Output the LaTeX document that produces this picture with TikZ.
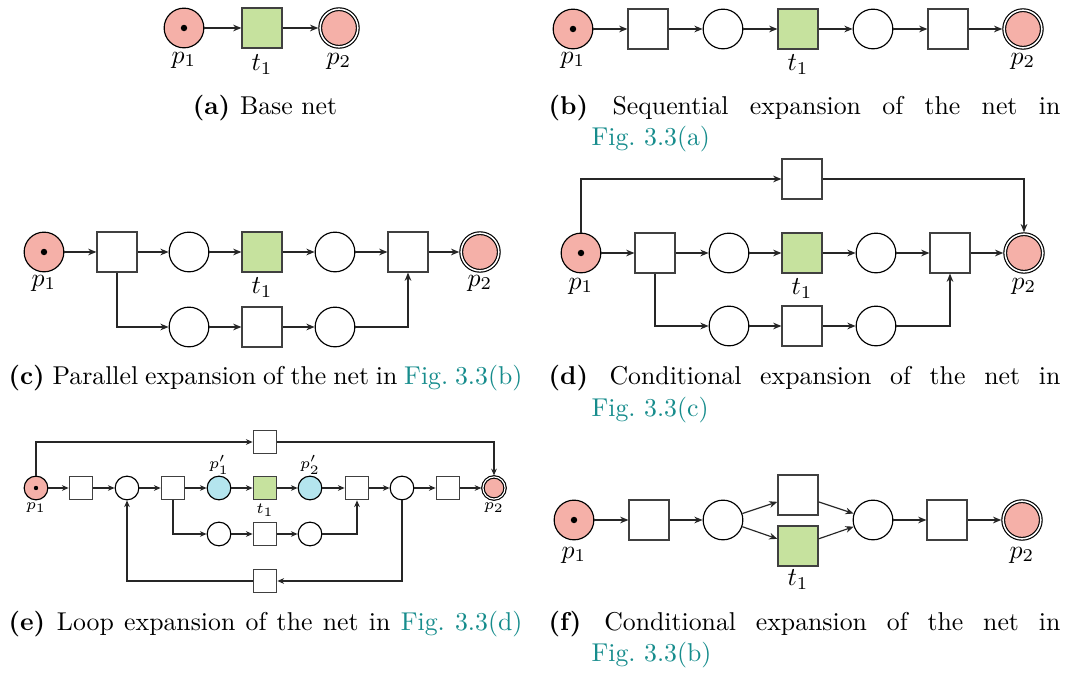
\documentclass[tikz,border=0pt]{standalone}
\usetikzlibrary{arrows.meta}
\definecolor{tokred}{RGB}{245,176,168}
\definecolor{trgreen}{RGB}{198,226,158}
\definecolor{plblue}{RGB}{180,229,238}
\definecolor{reflink}{RGB}{22,140,140}
\tikzset{
  pl/.style={circle, draw=black, line width=0.45pt, minimum size=15.4pt, inner sep=0pt, fill=white},
  tr/.style={rectangle, draw=black!75, line width=0.8pt, minimum size=15.2pt, inner sep=0pt, fill=white},
  spl/.style={pl, minimum size=9.2pt},
  str/.style={tr, minimum size=9.0pt, line width=0.6pt},
  initpl/.style={fill=tokred},
  finalpl/.style={fill=tokred, double, double distance=0.6pt, outer sep=0.75pt, minimum size=14.6pt},
  sfinalpl/.style={fill=tokred, double, double distance=0.45pt, outer sep=0.6pt, minimum size=8.6pt},
  keytr/.style={fill=trgreen},
  keypl/.style={fill=plblue},
  tok/.style={circle, fill=black, inner sep=0pt, minimum size=2.5pt},
  stok/.style={circle, fill=black, inner sep=0pt, minimum size=1.7pt},
  arr/.style={-{Stealth[length=3.2pt,width=2.6pt]}, line width=0.45pt, draw=black!85},
  sarr/.style={-{Stealth[length=2.6pt,width=2.2pt]}, line width=0.4pt, draw=black!85},
  lbl/.style={inner sep=0pt},
  slbl/.style={inner sep=0pt, font=\fontsize{6.3}{7.5}\selectfont},
  captext/.style={inner sep=0pt, anchor=base west},
  captextc/.style={inner sep=0pt, anchor=base},
}
\newcommand{\figlink}[1]{\textcolor{reflink}{#1}}
\newcommand{\sublabel}[1]{{\bfseries (#1)\ }}
\begin{document}
\begin{tikzpicture}[x=0.388pt, y=-0.388pt]
\useasboundingbox (0,0) rectangle (1065,675);

% ---------- (a) base net ----------
\node[pl,initpl] (a1) at (184,28) {};
\node[tok] (a1t) at (a1) {};
\node[tr,keytr] (a2) at (262,28) {};
\node[pl,finalpl] (a3) at (339,28) {};
\node[lbl] (a1l) at (184,60) {$p_1$};
\node[lbl] (a2l) at (262,65) {$t_1$};
\node[lbl] (a3l) at (339,61) {$p_2$};
\draw[arr] (a1) -- (a2);
\draw[arr] (a2) -- (a3);
\node[captextc] (capa) at (265,115) {\sublabel{a}Base net};

% ---------- (b) sequential expansion ----------
\node[pl,initpl] (b1) at (573,29) {};
\node[tok] (b1t) at (b1) {};
\node[tr] (b2) at (648,29) {};
\node[pl] (b3) at (723,29) {};
\node[tr,keytr] (b4) at (798,29) {};
\node[pl] (b5) at (873,29) {};
\node[tr] (b6) at (948,29) {};
\node[pl,finalpl] (b7) at (1023,29) {};
\node[lbl] (b1l) at (573,60) {$p_1$};
\node[lbl] (b4l) at (798,65) {$t_1$};
\node[lbl] (b7l) at (1023,61) {$p_2$};
\foreach \s/\t in {b1/b2,b2/b3,b3/b4,b4/b5,b5/b6,b6/b7}
  \draw[arr] (\s) -- (\t);
\node[captext] (capb1) at (548,115) {\makebox[198.6pt][s]{\sublabel{b}Sequential expansion of the net in}};
\node[captext] (capb2) at (591,146) {\figlink{Fig.~3.3(a)}};

% ---------- (c) parallel expansion ----------
\node[pl,initpl] (c1) at (44,252) {};
\node[tok] (c1t) at (c1) {};
\node[tr] (c2) at (117,252) {};
\node[pl] (c3) at (189,252) {};
\node[tr,keytr] (c4) at (262,252) {};
\node[pl] (c5) at (335,252) {};
\node[tr] (c6) at (408,252) {};
\node[pl,finalpl] (c7) at (480,252) {};
\node[pl] (c8) at (189,327) {};
\node[tr] (c9) at (262,327) {};
\node[pl] (c10) at (335,327) {};
\node[lbl] (c1l) at (44,283) {$p_1$};
\node[lbl] (c4l) at (262,288) {$t_1$};
\node[lbl] (c7l) at (480,283) {$p_2$};
\foreach \s/\t in {c1/c2,c2/c3,c3/c4,c4/c5,c5/c6,c6/c7,c8/c9,c9/c10}
  \draw[arr] (\s) -- (\t);
\draw[arr] (c2.south) |- (c8);
\draw[arr] (c10) -| (c6.south);
\node[captext] (capc) at (8,385) {\makebox[199.4pt][s]{\sublabel{c}Parallel expansion of the net in \figlink{Fig.~3.3(b)}}};

% ---------- (d) conditional expansion ----------
\node[pl,initpl] (d1) at (581,253) {};
\node[tok] (d1t) at (d1) {};
\node[tr] (d2) at (655,253) {};
\node[pl] (d3) at (729,253) {};
\node[tr,keytr] (d4) at (802,253) {};
\node[pl] (d5) at (876,253) {};
\node[tr] (d6) at (950,253) {};
\node[pl,finalpl] (d7) at (1024,253) {};
\node[pl] (d8) at (729,326) {};
\node[tr] (d9) at (802,326) {};
\node[pl] (d10) at (876,326) {};
\node[tr] (d11) at (802,179) {};
\node[lbl] (d1l) at (581,286) {$p_1$};
\node[lbl] (d4l) at (802,289) {$t_1$};
\node[lbl] (d7l) at (1024,286) {$p_2$};
\foreach \s/\t in {d1/d2,d2/d3,d3/d4,d4/d5,d5/d6,d6/d7,d8/d9,d9/d10}
  \draw[arr] (\s) -- (\t);
\draw[arr] (d2.south) |- (d8);
\draw[arr] (d10) -| (d6.south);
\draw[arr] (d1.north) |- (d11);
\draw[arr] (d11) -| (d7.north);
\node[captext] (capd1) at (548,385) {\makebox[198.6pt][s]{\sublabel{d}Conditional expansion of the net in}};
\node[captext] (capd2) at (591,417) {\figlink{Fig.~3.3(c)}};

% ---------- (e) loop expansion ----------
\node[spl,initpl] (e1) at (36,488) {};
\node[stok] (e1t) at (e1) {};
\node[str] (e2) at (81,488) {};
\node[spl] (e3) at (127,488) {};
\node[str] (e4) at (173,488) {};
\node[spl,keypl] (e5) at (219,488) {};
\node[str,keytr] (e6) at (265,488) {};
\node[spl,keypl] (e7) at (310,488) {};
\node[str] (e8) at (357,488) {};
\node[spl] (e9) at (402,488) {};
\node[str] (e10) at (448,488) {};
\node[spl,sfinalpl] (e11) at (494,488) {};
\node[str] (e12) at (265,442) {};
\node[spl] (e13) at (219,534) {};
\node[str] (e14) at (265,534) {};
\node[spl] (e15) at (310,534) {};
\node[str] (e16) at (265,581) {};
\node[slbl] (e1l) at (36,508) {$p_1$};
\node[slbl] (e6l) at (265,510) {$t_1$};
\node[slbl] (e11l) at (494,508) {$p_2$};
\node[slbl] (e5l) at (219,465) {$p_1'$};
\node[slbl] (e7l) at (310,465) {$p_2'$};
\foreach \s/\t in {e1/e2,e2/e3,e3/e4,e4/e5,e5/e6,e6/e7,e7/e8,e8/e9,e9/e10,e10/e11,e13/e14,e14/e15}
  \draw[sarr] (\s) -- (\t);
\draw[sarr] (e1.north) |- (e12);
\draw[sarr] (e12) -| (e11.north);
\draw[sarr] (e4.south) |- (e13);
\draw[sarr] (e15) -| (e8.south);
\draw[sarr] (e9.south) |- (e16);
\draw[sarr] (e16) -| (e3.south);
\node[captext] (cape) at (8,631) {\makebox[199.4pt][s]{\sublabel{e}Loop expansion of the net in \figlink{Fig.~3.3(d)}}};

% ---------- (f) conditional expansion ----------
\node[pl,initpl] (f1) at (574,520) {};
\node[tok] (f1t) at (f1) {};
\node[tr] (f2) at (649,520) {};
\node[pl] (f3) at (723,520) {};
\node[tr] (f4) at (798,495) {};
\node[tr,keytr] (f5) at (798,546) {};
\node[pl] (f6) at (873,520) {};
\node[tr] (f7) at (947,520) {};
\node[pl,finalpl] (f8) at (1022,520) {};
\node[lbl] (f1l) at (574,555) {$p_1$};
\node[lbl] (f5l) at (798,580) {$t_1$};
\node[lbl] (f8l) at (1022,555) {$p_2$};
\foreach \s/\t in {f1/f2,f2/f3,f3/f4,f3/f5,f4/f6,f5/f6,f6/f7,f7/f8}
  \draw[arr] (\s) -- (\t);
\node[captext] (capf1) at (548,631) {\makebox[198.6pt][s]{\sublabel{f}Conditional expansion of the net in}};
\node[captext] (capf2) at (591,662) {\figlink{Fig.~3.3(b)}};
\end{tikzpicture}
\end{document}
